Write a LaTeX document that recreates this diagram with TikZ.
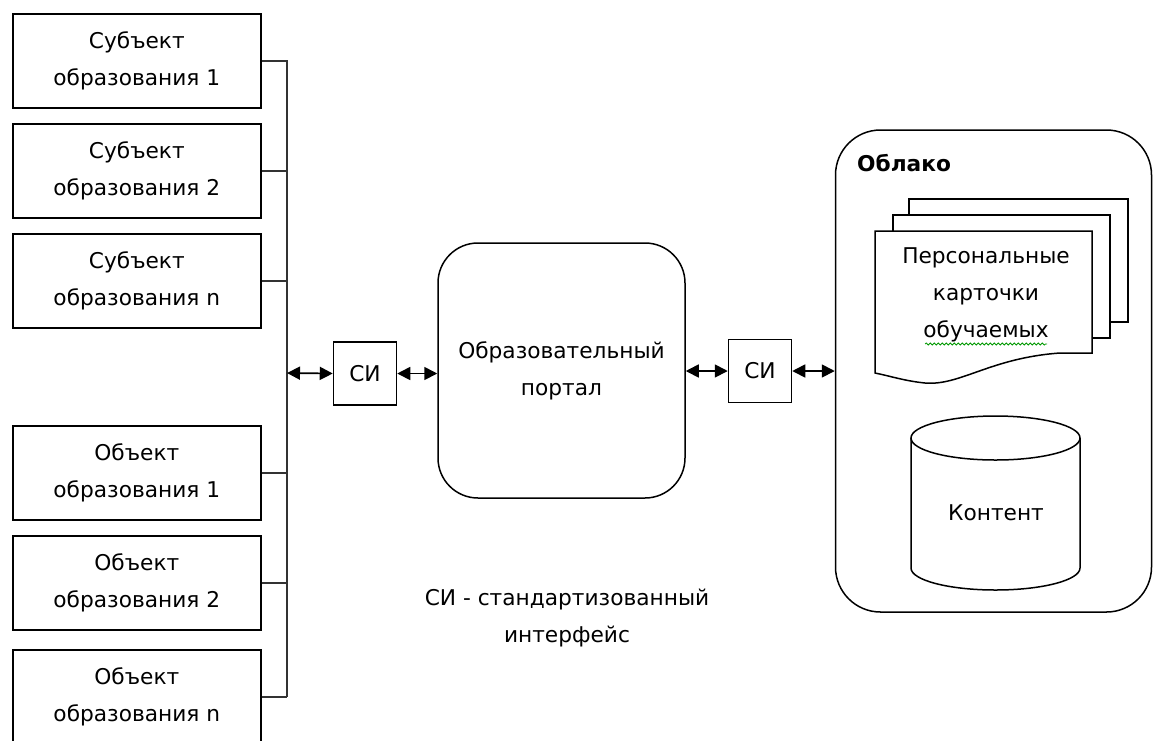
\documentclass[tikz,border=0pt]{standalone}
\usepackage{fontspec}
\setmainfont{DejaVu Sans}
\usetikzlibrary{arrows.meta,shapes.geometric,decorations.pathmorphing}
\begin{document}
\begin{tikzpicture}[x=1pt,y=-1pt,
  every node/.style={font=\fontsize{21.7}{37}\selectfont, align=center, inner sep=0pt},
  ebox/.style={draw, line width=1.6pt, minimum width=248pt, minimum height=94pt, anchor=north west},
  sibox/.style={draw, line width=1.5pt, minimum width=63pt, minimum height=63pt},
  bus/.style={line width=1.7pt, draw=black!80},
  dbl/.style={line width=1.7pt, {Triangle[length=13pt,width=13pt]}-{Triangle[length=13pt,width=13pt]}},
  frame/.style={draw, line width=1.5pt},
]
\useasboundingbox (0,0) rectangle (1154,740);
% left boxes
\node[ebox] (s1) at (12,13) {Субъект\\образования 1};
\node[ebox] (s2) at (12,123) {Субъект\\образования 2};
\node[ebox] (s3) at (12,233) {Субъект\\образования n};
\node[ebox] (o1) at (12,425) {Объект\\образования 1};
\node[ebox] (o2) at (12,535) {Объект\\образования 2};
\node[ebox] (o3) at (12,649) {Объект\\образования n};
% bus
\coordinate (bt) at (287,60);
\coordinate (bb) at (287,697);
\coordinate (bm) at (287,373);
\draw[bus] (bt) -- (bb);
\foreach \n in {s1,s2,s3,o1,o2,o3} {\draw[bus] (\n.east) -- (\n.east -| bt);}
% SI boxes
\node[sibox] (si1) at (365,373.5) {СИ};
\node[sibox] (si2) at (760,371) {СИ};
% portal
\node[draw, line width=1.5pt, rounded corners=40pt, minimum width=247pt, minimum height=255pt] (portal) at (561.5,370.5) {Образовательный\\портал};
% cloud
\node[draw, line width=1.5pt, rounded corners=45pt, minimum width=316pt, minimum height=482pt] (cloud) at (993.5,371) {};
\node[font=\fontsize{21.7}{37}\selectfont\bfseries, anchor=west] (cl) at (857,163) {Облако};
% arrows
\draw[dbl] (bm) -- (si1.west);
\draw[dbl] (si1.east) -- (portal.west |- si1.east);
\draw[dbl] (portal.east |- si2.west) -- (si2.west);
\draw[dbl] (si2.east) -- (cloud.west |- si2.east);
% documents
\draw[frame, fill=white] (909,199) rectangle (1128,322);
\draw[frame, fill=white] (893,215) rectangle (1110,338);
\draw[frame, fill=white] (875,231) -- (1092,231) -- (1092,353) -- (1060,353)
  .. controls (990,358) and (960,386) .. (925,383)
  .. controls (905,381) and (890,376) .. (875,373) -- cycle;
\node (doc) at (986,295) {Персональные\\карточки\\обучаемых};
\draw[green!60!black, line width=0.8pt, decorate, decoration={snake, amplitude=1pt, segment length=4pt}] (925,344) -- (1047,344);
% cylinder
\draw[frame, fill=white] (911,438) -- (911,568) arc[start angle=180, end angle=360, x radius=84.5pt, y radius=22pt] -- (1080,438);
\draw[frame] (995.5,438) ellipse[x radius=84.5pt, y radius=22pt];
\node (kont) at (996,513) {Контент};
% legend
\node (leg) at (567,618) {СИ - стандартизованный\\интерфейс};
\end{tikzpicture}
\end{document}
